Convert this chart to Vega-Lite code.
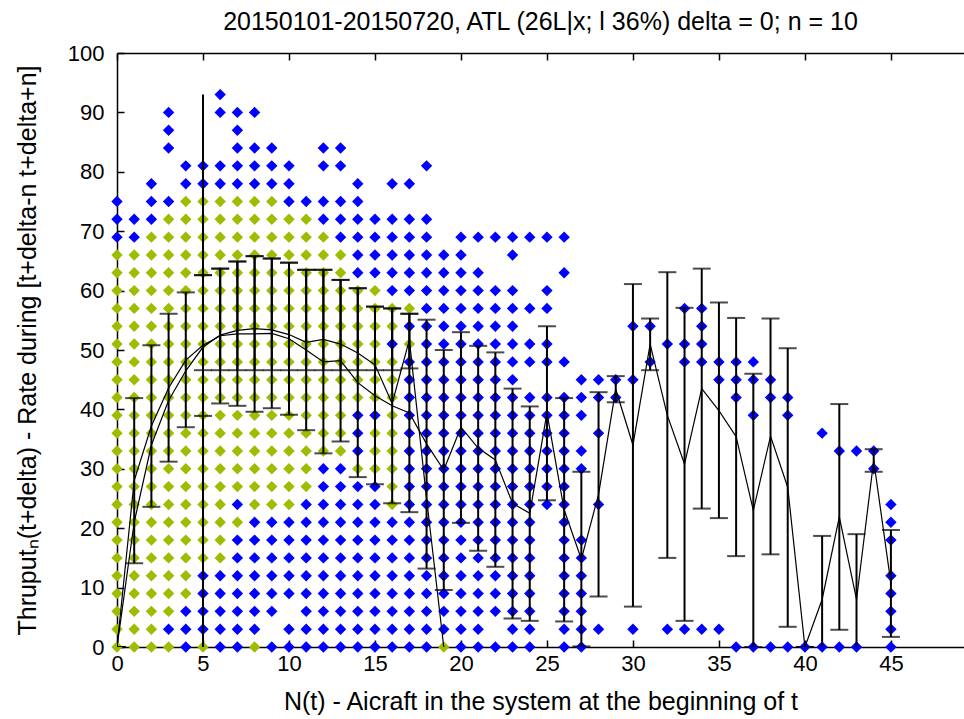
{
  "$schema": "https://vega.github.io/schema/vega-lite/v6.json",
  "width": 847,
  "height": 594,
  "autosize": {"type": "none"},
  "padding": {"left": 117, "top": 53, "right": 0, "bottom": 72},
  "background": "white",
  "config": {
    "view": {"stroke": null},
    "font": "Liberation Sans",
    "axis": {
      "domainColor": "black", "domainWidth": 1.5, "tickColor": "black", "tickWidth": 1.5,
      "labelColor": "black", "labelFont": "Liberation Sans", "labelFontSize": 22,
      "titleColor": "black", "titleFont": "Liberation Sans", "titleFontSize": 25, "titleFontWeight": "normal",
      "grid": false
    }
  },
  "title": {
    "text": "20150101-20150720, ATL (26L|x; l 36%) delta = 0; n = 10",
    "fontSize": 25, "fontWeight": "normal", "color": "black", "font": "Liberation Sans",
    "anchor": "middle", "offset": 7
  },
  "resolve": {"axis": {"x": "independent"}},
  "datasets": {
    "green": [
      {"x":0,"y":0},{"x":0,"y":3},{"x":0,"y":6},{"x":0,"y":9},{"x":0,"y":12},{"x":0,"y":15},{"x":0,"y":18},{"x":0,"y":21},{"x":0,"y":24},{"x":0,"y":27},{"x":0,"y":30},{"x":0,"y":33},{"x":0,"y":36},{"x":0,"y":39},{"x":0,"y":42},{"x":0,"y":45},{"x":0,"y":48},{"x":0,"y":51},{"x":0,"y":54},{"x":0,"y":57},{"x":0,"y":60},{"x":0,"y":63},{"x":0,"y":66},
      {"x":1,"y":0},{"x":1,"y":3},{"x":1,"y":6},{"x":1,"y":9},{"x":1,"y":12},{"x":1,"y":15},{"x":1,"y":18},{"x":1,"y":21},{"x":1,"y":24},{"x":1,"y":27},{"x":1,"y":30},{"x":1,"y":33},{"x":1,"y":36},{"x":1,"y":39},{"x":1,"y":42},{"x":1,"y":45},{"x":1,"y":48},{"x":1,"y":51},{"x":1,"y":54},{"x":1,"y":57},{"x":1,"y":60},{"x":1,"y":63},{"x":1,"y":66},
      {"x":2,"y":0},{"x":2,"y":3},{"x":2,"y":6},{"x":2,"y":9},{"x":2,"y":12},{"x":2,"y":15},{"x":2,"y":18},{"x":2,"y":21},{"x":2,"y":24},{"x":2,"y":27},{"x":2,"y":30},{"x":2,"y":33},{"x":2,"y":36},{"x":2,"y":39},{"x":2,"y":42},{"x":2,"y":45},{"x":2,"y":48},{"x":2,"y":51},{"x":2,"y":54},{"x":2,"y":57},{"x":2,"y":60},{"x":2,"y":63},{"x":2,"y":66},{"x":2,"y":69},
      {"x":3,"y":0},{"x":3,"y":6},{"x":3,"y":9},{"x":3,"y":12},{"x":3,"y":15},{"x":3,"y":18},{"x":3,"y":21},{"x":3,"y":24},{"x":3,"y":27},{"x":3,"y":30},{"x":3,"y":33},{"x":3,"y":36},{"x":3,"y":39},{"x":3,"y":42},{"x":3,"y":45},{"x":3,"y":48},{"x":3,"y":51},{"x":3,"y":54},{"x":3,"y":57},{"x":3,"y":60},{"x":3,"y":63},{"x":3,"y":66},{"x":3,"y":69},{"x":3,"y":72},
      {"x":4,"y":9},{"x":4,"y":12},{"x":4,"y":15},{"x":4,"y":18},{"x":4,"y":21},{"x":4,"y":24},{"x":4,"y":27},{"x":4,"y":30},{"x":4,"y":33},{"x":4,"y":36},{"x":4,"y":39},{"x":4,"y":42},{"x":4,"y":45},{"x":4,"y":48},{"x":4,"y":51},{"x":4,"y":54},{"x":4,"y":57},{"x":4,"y":60},{"x":4,"y":63},{"x":4,"y":66},{"x":4,"y":69},{"x":4,"y":72},{"x":4,"y":75},
      {"x":5,"y":0},{"x":5,"y":15},{"x":5,"y":18},{"x":5,"y":21},{"x":5,"y":24},{"x":5,"y":27},{"x":5,"y":30},{"x":5,"y":33},{"x":5,"y":36},{"x":5,"y":39},{"x":5,"y":42},{"x":5,"y":45},{"x":5,"y":48},{"x":5,"y":51},{"x":5,"y":54},{"x":5,"y":57},{"x":5,"y":60},{"x":5,"y":63},{"x":5,"y":66},{"x":5,"y":69},{"x":5,"y":72},{"x":5,"y":75},
      {"x":6,"y":15},{"x":6,"y":18},{"x":6,"y":21},{"x":6,"y":24},{"x":6,"y":27},{"x":6,"y":30},{"x":6,"y":33},{"x":6,"y":36},{"x":6,"y":39},{"x":6,"y":42},{"x":6,"y":45},{"x":6,"y":48},{"x":6,"y":51},{"x":6,"y":54},{"x":6,"y":57},{"x":6,"y":60},{"x":6,"y":63},{"x":6,"y":66},{"x":6,"y":69},{"x":6,"y":72},{"x":6,"y":75},
      {"x":7,"y":21},{"x":7,"y":27},{"x":7,"y":30},{"x":7,"y":33},{"x":7,"y":36},{"x":7,"y":39},{"x":7,"y":42},{"x":7,"y":45},{"x":7,"y":48},{"x":7,"y":51},{"x":7,"y":54},{"x":7,"y":57},{"x":7,"y":60},{"x":7,"y":63},{"x":7,"y":66},{"x":7,"y":69},{"x":7,"y":72},{"x":7,"y":75},
      {"x":8,"y":0},{"x":8,"y":24},{"x":8,"y":27},{"x":8,"y":30},{"x":8,"y":33},{"x":8,"y":36},{"x":8,"y":39},{"x":8,"y":42},{"x":8,"y":45},{"x":8,"y":48},{"x":8,"y":51},{"x":8,"y":54},{"x":8,"y":57},{"x":8,"y":60},{"x":8,"y":63},{"x":8,"y":66},{"x":8,"y":69},{"x":8,"y":72},{"x":8,"y":75},
      {"x":9,"y":24},{"x":9,"y":27},{"x":9,"y":30},{"x":9,"y":33},{"x":9,"y":36},{"x":9,"y":39},{"x":9,"y":42},{"x":9,"y":45},{"x":9,"y":48},{"x":9,"y":51},{"x":9,"y":54},{"x":9,"y":57},{"x":9,"y":60},{"x":9,"y":63},{"x":9,"y":66},{"x":9,"y":69},{"x":9,"y":72},{"x":9,"y":75},
      {"x":10,"y":24},{"x":10,"y":27},{"x":10,"y":30},{"x":10,"y":33},{"x":10,"y":36},{"x":10,"y":39},{"x":10,"y":42},{"x":10,"y":45},{"x":10,"y":48},{"x":10,"y":51},{"x":10,"y":54},{"x":10,"y":57},{"x":10,"y":60},{"x":10,"y":63},{"x":10,"y":66},{"x":10,"y":69},{"x":10,"y":72},
      {"x":11,"y":27},{"x":11,"y":30},{"x":11,"y":33},{"x":11,"y":36},{"x":11,"y":39},{"x":11,"y":42},{"x":11,"y":45},{"x":11,"y":48},{"x":11,"y":51},{"x":11,"y":54},{"x":11,"y":57},{"x":11,"y":60},{"x":11,"y":63},{"x":11,"y":66},{"x":11,"y":69},{"x":11,"y":72},
      {"x":12,"y":33},{"x":12,"y":36},{"x":12,"y":39},{"x":12,"y":42},{"x":12,"y":45},{"x":12,"y":48},{"x":12,"y":51},{"x":12,"y":54},{"x":12,"y":57},{"x":12,"y":60},{"x":12,"y":63},{"x":12,"y":66},{"x":12,"y":69},
      {"x":13,"y":33},{"x":13,"y":36},{"x":13,"y":39},{"x":13,"y":42},{"x":13,"y":45},{"x":13,"y":48},{"x":13,"y":51},{"x":13,"y":54},{"x":13,"y":57},{"x":13,"y":60},{"x":13,"y":63},{"x":13,"y":66},
      {"x":14,"y":30},{"x":14,"y":42},{"x":14,"y":45},{"x":14,"y":48},{"x":14,"y":51},{"x":14,"y":54},{"x":14,"y":57},{"x":14,"y":60},
      {"x":15,"y":30},{"x":15,"y":33},{"x":15,"y":36},{"x":15,"y":42},{"x":15,"y":45},{"x":15,"y":48},{"x":15,"y":51},{"x":15,"y":54},{"x":15,"y":57},{"x":15,"y":60},
      {"x":16,"y":24},{"x":16,"y":27},{"x":16,"y":30},{"x":16,"y":33},{"x":16,"y":36},{"x":16,"y":39},{"x":16,"y":42},{"x":16,"y":45},{"x":16,"y":48},{"x":16,"y":54},{"x":16,"y":57},
      {"x":17,"y":51},{"x":17,"y":57},
      {"x":19,"y":0}
    ],
    "blue": [
      {"x":0,"y":69},{"x":0,"y":72},{"x":0,"y":75},
      {"x":1,"y":69},{"x":1,"y":72},
      {"x":2,"y":72},{"x":2,"y":75},{"x":2,"y":78},
      {"x":3,"y":3},{"x":3,"y":75},{"x":3,"y":84},{"x":3,"y":87},{"x":3,"y":90},
      {"x":4,"y":0},{"x":4,"y":3},{"x":4,"y":6},{"x":4,"y":78},{"x":4,"y":81},
      {"x":5,"y":3},{"x":5,"y":6},{"x":5,"y":9},{"x":5,"y":12},{"x":5,"y":78},{"x":5,"y":81},
      {"x":6,"y":0},{"x":6,"y":3},{"x":6,"y":6},{"x":6,"y":9},{"x":6,"y":12},{"x":6,"y":78},{"x":6,"y":81},{"x":6,"y":90},{"x":6,"y":93},
      {"x":7,"y":0},{"x":7,"y":3},{"x":7,"y":6},{"x":7,"y":9},{"x":7,"y":12},{"x":7,"y":15},{"x":7,"y":18},{"x":7,"y":24},{"x":7,"y":78},{"x":7,"y":81},{"x":7,"y":84},{"x":7,"y":87},{"x":7,"y":90},
      {"x":8,"y":3},{"x":8,"y":6},{"x":8,"y":9},{"x":8,"y":12},{"x":8,"y":15},{"x":8,"y":18},{"x":8,"y":21},{"x":8,"y":78},{"x":8,"y":81},{"x":8,"y":84},{"x":8,"y":90},
      {"x":9,"y":0},{"x":9,"y":6},{"x":9,"y":9},{"x":9,"y":12},{"x":9,"y":15},{"x":9,"y":18},{"x":9,"y":21},{"x":9,"y":78},{"x":9,"y":81},{"x":9,"y":84},
      {"x":10,"y":0},{"x":10,"y":3},{"x":10,"y":9},{"x":10,"y":12},{"x":10,"y":15},{"x":10,"y":18},{"x":10,"y":21},{"x":10,"y":75},{"x":10,"y":78},{"x":10,"y":81},
      {"x":11,"y":0},{"x":11,"y":3},{"x":11,"y":6},{"x":11,"y":9},{"x":11,"y":12},{"x":11,"y":15},{"x":11,"y":18},{"x":11,"y":21},{"x":11,"y":24},{"x":11,"y":75},
      {"x":12,"y":0},{"x":12,"y":3},{"x":12,"y":6},{"x":12,"y":9},{"x":12,"y":12},{"x":12,"y":15},{"x":12,"y":18},{"x":12,"y":21},{"x":12,"y":24},{"x":12,"y":27},{"x":12,"y":30},{"x":12,"y":72},{"x":12,"y":75},{"x":12,"y":81},{"x":12,"y":84},
      {"x":13,"y":0},{"x":13,"y":3},{"x":13,"y":6},{"x":13,"y":9},{"x":13,"y":12},{"x":13,"y":15},{"x":13,"y":18},{"x":13,"y":21},{"x":13,"y":24},{"x":13,"y":27},{"x":13,"y":30},{"x":13,"y":69},{"x":13,"y":72},{"x":13,"y":75},{"x":13,"y":81},{"x":13,"y":84},
      {"x":14,"y":0},{"x":14,"y":3},{"x":14,"y":6},{"x":14,"y":9},{"x":14,"y":12},{"x":14,"y":15},{"x":14,"y":18},{"x":14,"y":21},{"x":14,"y":24},{"x":14,"y":27},{"x":14,"y":33},{"x":14,"y":36},{"x":14,"y":39},{"x":14,"y":63},{"x":14,"y":66},{"x":14,"y":69},{"x":14,"y":72},{"x":14,"y":75},{"x":14,"y":78},
      {"x":15,"y":0},{"x":15,"y":3},{"x":15,"y":6},{"x":15,"y":9},{"x":15,"y":12},{"x":15,"y":15},{"x":15,"y":18},{"x":15,"y":21},{"x":15,"y":24},{"x":15,"y":27},{"x":15,"y":39},{"x":15,"y":63},{"x":15,"y":66},{"x":15,"y":69},{"x":15,"y":72},
      {"x":16,"y":0},{"x":16,"y":3},{"x":16,"y":6},{"x":16,"y":9},{"x":16,"y":12},{"x":16,"y":15},{"x":16,"y":18},{"x":16,"y":21},{"x":16,"y":51},{"x":16,"y":60},{"x":16,"y":63},{"x":16,"y":66},{"x":16,"y":69},{"x":16,"y":72},{"x":16,"y":78},
      {"x":17,"y":0},{"x":17,"y":3},{"x":17,"y":6},{"x":17,"y":9},{"x":17,"y":12},{"x":17,"y":15},{"x":17,"y":18},{"x":17,"y":21},{"x":17,"y":24},{"x":17,"y":27},{"x":17,"y":30},{"x":17,"y":33},{"x":17,"y":36},{"x":17,"y":39},{"x":17,"y":42},{"x":17,"y":45},{"x":17,"y":48},{"x":17,"y":54},{"x":17,"y":60},{"x":17,"y":63},{"x":17,"y":66},{"x":17,"y":69},{"x":17,"y":72},{"x":17,"y":78},
      {"x":18,"y":0},{"x":18,"y":3},{"x":18,"y":6},{"x":18,"y":9},{"x":18,"y":12},{"x":18,"y":15},{"x":18,"y":18},{"x":18,"y":21},{"x":18,"y":24},{"x":18,"y":27},{"x":18,"y":30},{"x":18,"y":33},{"x":18,"y":36},{"x":18,"y":39},{"x":18,"y":42},{"x":18,"y":45},{"x":18,"y":48},{"x":18,"y":51},{"x":18,"y":54},{"x":18,"y":57},{"x":18,"y":60},{"x":18,"y":63},{"x":18,"y":66},{"x":18,"y":69},{"x":18,"y":72},{"x":18,"y":81},
      {"x":19,"y":3},{"x":19,"y":6},{"x":19,"y":9},{"x":19,"y":12},{"x":19,"y":15},{"x":19,"y":18},{"x":19,"y":21},{"x":19,"y":24},{"x":19,"y":27},{"x":19,"y":30},{"x":19,"y":33},{"x":19,"y":36},{"x":19,"y":39},{"x":19,"y":42},{"x":19,"y":45},{"x":19,"y":48},{"x":19,"y":51},{"x":19,"y":54},{"x":19,"y":57},{"x":19,"y":60},{"x":19,"y":63},{"x":19,"y":66},
      {"x":20,"y":0},{"x":20,"y":3},{"x":20,"y":6},{"x":20,"y":9},{"x":20,"y":12},{"x":20,"y":15},{"x":20,"y":18},{"x":20,"y":21},{"x":20,"y":24},{"x":20,"y":27},{"x":20,"y":30},{"x":20,"y":33},{"x":20,"y":36},{"x":20,"y":39},{"x":20,"y":42},{"x":20,"y":45},{"x":20,"y":48},{"x":20,"y":51},{"x":20,"y":54},{"x":20,"y":57},{"x":20,"y":60},{"x":20,"y":63},{"x":20,"y":66},{"x":20,"y":69},
      {"x":21,"y":0},{"x":21,"y":3},{"x":21,"y":6},{"x":21,"y":9},{"x":21,"y":12},{"x":21,"y":15},{"x":21,"y":18},{"x":21,"y":21},{"x":21,"y":24},{"x":21,"y":27},{"x":21,"y":30},{"x":21,"y":33},{"x":21,"y":36},{"x":21,"y":39},{"x":21,"y":42},{"x":21,"y":45},{"x":21,"y":48},{"x":21,"y":51},{"x":21,"y":54},{"x":21,"y":57},{"x":21,"y":60},{"x":21,"y":63},{"x":21,"y":69},
      {"x":22,"y":0},{"x":22,"y":6},{"x":22,"y":9},{"x":22,"y":12},{"x":22,"y":15},{"x":22,"y":18},{"x":22,"y":21},{"x":22,"y":24},{"x":22,"y":27},{"x":22,"y":30},{"x":22,"y":33},{"x":22,"y":36},{"x":22,"y":39},{"x":22,"y":42},{"x":22,"y":45},{"x":22,"y":48},{"x":22,"y":51},{"x":22,"y":54},{"x":22,"y":57},{"x":22,"y":60},{"x":22,"y":69},
      {"x":23,"y":0},{"x":23,"y":3},{"x":23,"y":6},{"x":23,"y":9},{"x":23,"y":12},{"x":23,"y":15},{"x":23,"y":18},{"x":23,"y":21},{"x":23,"y":24},{"x":23,"y":27},{"x":23,"y":30},{"x":23,"y":33},{"x":23,"y":36},{"x":23,"y":39},{"x":23,"y":42},{"x":23,"y":45},{"x":23,"y":48},{"x":23,"y":51},{"x":23,"y":54},{"x":23,"y":57},{"x":23,"y":60},{"x":23,"y":66},{"x":23,"y":69},
      {"x":24,"y":0},{"x":24,"y":3},{"x":24,"y":6},{"x":24,"y":9},{"x":24,"y":12},{"x":24,"y":15},{"x":24,"y":18},{"x":24,"y":21},{"x":24,"y":24},{"x":24,"y":27},{"x":24,"y":30},{"x":24,"y":33},{"x":24,"y":36},{"x":24,"y":39},{"x":24,"y":42},{"x":24,"y":48},{"x":24,"y":51},{"x":24,"y":57},{"x":24,"y":69},
      {"x":25,"y":24},{"x":25,"y":27},{"x":25,"y":30},{"x":25,"y":33},{"x":25,"y":36},{"x":25,"y":39},{"x":25,"y":42},{"x":25,"y":48},{"x":25,"y":51},{"x":25,"y":57},{"x":25,"y":60},{"x":25,"y":69},
      {"x":26,"y":0},{"x":26,"y":3},{"x":26,"y":6},{"x":26,"y":9},{"x":26,"y":12},{"x":26,"y":15},{"x":26,"y":18},{"x":26,"y":21},{"x":26,"y":24},{"x":26,"y":27},{"x":26,"y":30},{"x":26,"y":33},{"x":26,"y":36},{"x":26,"y":39},{"x":26,"y":42},{"x":26,"y":48},{"x":26,"y":63},{"x":26,"y":69},
      {"x":27,"y":0},{"x":27,"y":3},{"x":27,"y":6},{"x":27,"y":9},{"x":27,"y":12},{"x":27,"y":15},{"x":27,"y":18},{"x":27,"y":30},{"x":27,"y":33},{"x":27,"y":39},{"x":27,"y":42},{"x":27,"y":45},
      {"x":28,"y":3},{"x":28,"y":24},{"x":28,"y":36},{"x":28,"y":42},{"x":28,"y":45},
      {"x":29,"y":42},{"x":29,"y":45},
      {"x":30,"y":3},{"x":30,"y":45},{"x":30,"y":54},
      {"x":31,"y":48},{"x":31,"y":54},
      {"x":32,"y":3},{"x":32,"y":51},
      {"x":33,"y":3},{"x":33,"y":48},{"x":33,"y":51},{"x":33,"y":57},
      {"x":34,"y":3},{"x":34,"y":48},{"x":34,"y":51},{"x":34,"y":54},{"x":34,"y":57},
      {"x":35,"y":3},{"x":35,"y":45},{"x":35,"y":48},
      {"x":36,"y":0},{"x":36,"y":42},{"x":36,"y":45},{"x":36,"y":48},
      {"x":37,"y":0},{"x":37,"y":39},{"x":37,"y":45},{"x":37,"y":48},
      {"x":38,"y":0},{"x":38,"y":42},{"x":38,"y":45},
      {"x":39,"y":0},{"x":39,"y":39},{"x":39,"y":42},
      {"x":40,"y":0},
      {"x":41,"y":0},{"x":41,"y":36},
      {"x":42,"y":0},{"x":42,"y":33},
      {"x":43,"y":0},{"x":43,"y":33},
      {"x":44,"y":30},{"x":44,"y":33},
      {"x":45,"y":0},{"x":45,"y":3},{"x":45,"y":6},{"x":45,"y":9},{"x":45,"y":12},{"x":45,"y":18},{"x":45,"y":21},{"x":45,"y":24}
    ],
    "stats": [
      {"x":0,"m":0,"lo":0,"hi":0,"s":"all"},
      {"x":1,"m":28,"lo":14.1,"hi":41.9,"s":"all"},
      {"x":2,"m":37.2,"lo":23.6,"hi":50.8,"s":"all"},
      {"x":3,"m":43.6,"lo":31.2,"hi":56.1,"s":"all"},
      {"x":4,"m":48.3,"lo":37,"hi":59.7,"s":"all"},
      {"x":5,"m":50.8,"lo":38.9,"hi":62.6,"s":"all"},
      {"x":6,"m":52.4,"lo":41,"hi":63.7,"s":"all"},
      {"x":7,"m":52.7,"lo":40.6,"hi":64.9,"s":"all"},
      {"x":8,"m":52.7,"lo":39.6,"hi":65.8,"s":"all"},
      {"x":9,"m":52.8,"lo":40.2,"hi":65.4,"s":"all"},
      {"x":10,"m":51.9,"lo":39.1,"hi":64.7,"s":"all"},
      {"x":11,"m":50,"lo":36.5,"hi":63.5,"s":"all"},
      {"x":12,"m":48,"lo":32.6,"hi":63.5,"s":"all"},
      {"x":13,"m":48.2,"lo":34.6,"hi":61.8,"s":"all"},
      {"x":14,"m":44.5,"lo":28.6,"hi":60.4,"s":"all"},
      {"x":15,"m":42.3,"lo":27.4,"hi":57.3,"s":"all"},
      {"x":16,"m":40.6,"lo":24.2,"hi":57,"s":"all"},
      {"x":17,"m":39.4,"lo":22.7,"hi":56.1,"s":"all"},
      {"x":18,"m":34.2,"lo":13.2,"hi":55.1,"s":"all"},
      {"x":19,"m":29.8,"lo":9.6,"hi":50,"s":"all"},
      {"x":20,"m":37,"lo":20.9,"hi":53,"s":"all"},
      {"x":21,"m":33.5,"lo":16.2,"hi":50.7,"s":"all"},
      {"x":22,"m":31.5,"lo":13.5,"hi":49.6,"s":"all"},
      {"x":23,"m":24.2,"lo":4.8,"hi":43.5,"s":"all"},
      {"x":24,"m":22.5,"lo":4.4,"hi":40.5,"s":"all"},
      {"x":25,"m":39.4,"lo":24.7,"hi":54,"s":"all"},
      {"x":26,"m":23.1,"lo":4.3,"hi":41.9,"s":"all"},
      {"x":27,"m":14.8,"lo":0.1,"hi":29.5,"s":"all"},
      {"x":28,"m":25.7,"lo":8.5,"hi":42.9,"s":"all"},
      {"x":29,"m":43.4,"lo":41.2,"hi":45.6,"s":"all"},
      {"x":30,"m":34,"lo":6.8,"hi":61.1,"s":"all"},
      {"x":31,"m":51,"lo":46.6,"hi":55.3,"s":"all"},
      {"x":32,"m":39,"lo":15,"hi":63.1,"s":"all"},
      {"x":33,"m":30.8,"lo":4.4,"hi":57.1,"s":"all"},
      {"x":34,"m":43.5,"lo":23.3,"hi":63.7,"s":"all"},
      {"x":35,"m":39.8,"lo":21.7,"hi":58,"s":"all"},
      {"x":36,"m":35.4,"lo":15.3,"hi":55.4,"s":"all"},
      {"x":37,"m":23,"lo":0,"hi":46,"s":"all"},
      {"x":38,"m":35.5,"lo":15.6,"hi":55.3,"s":"all"},
      {"x":39,"m":26.9,"lo":3.4,"hi":50.3,"s":"all"},
      {"x":40,"m":0,"lo":0,"hi":0,"s":"all"},
      {"x":41,"m":8,"lo":-2.7,"hi":18.7,"s":"all"},
      {"x":42,"m":21.9,"lo":2.9,"hi":40.9,"s":"all"},
      {"x":43,"m":8,"lo":-3,"hi":19,"s":"all"},
      {"x":44,"m":31.4,"lo":29.5,"hi":33.3,"s":"all"},
      {"x":45,"m":10.7,"lo":1.7,"hi":19.7,"s":"all"},
      {"x":0,"m":0,"lo":null,"hi":null,"s":"sub"},
      {"x":1,"m":21,"lo":null,"hi":null,"s":"sub"},
      {"x":2,"m":34,"lo":null,"hi":null,"s":"sub"},
      {"x":3,"m":41.5,"lo":null,"hi":null,"s":"sub"},
      {"x":4,"m":46.5,"lo":null,"hi":null,"s":"sub"},
      {"x":5,"m":50.5,"lo":46.6,"hi":62.6,"s":"sub"},
      {"x":6,"m":52.5,"lo":46.6,"hi":63.7,"s":"sub"},
      {"x":7,"m":53.3,"lo":46.6,"hi":64.9,"s":"sub"},
      {"x":8,"m":53.6,"lo":46.6,"hi":65.8,"s":"sub"},
      {"x":9,"m":53.4,"lo":46.6,"hi":65.4,"s":"sub"},
      {"x":10,"m":52.6,"lo":46.6,"hi":64.7,"s":"sub"},
      {"x":11,"m":51.3,"lo":46.6,"hi":63.5,"s":"sub"},
      {"x":12,"m":51.8,"lo":46.6,"hi":63.5,"s":"sub"},
      {"x":13,"m":51,"lo":46.6,"hi":61.8,"s":"sub"},
      {"x":14,"m":49.5,"lo":46.6,"hi":60.4,"s":"sub"},
      {"x":15,"m":47.5,"lo":46.6,"hi":57.3,"s":"sub"},
      {"x":16,"m":41,"lo":46.6,"hi":57,"s":"sub"},
      {"x":17,"m":51.7,"lo":46.9,"hi":56.1,"s":"sub"},
      {"x":18,"m":25,"lo":null,"hi":null,"s":"sub"},
      {"x":19,"m":0,"lo":null,"hi":null,"s":"sub"}
    ],
    "marker": [
      {"x":5,"lo":0,"hi":93}
    ]
  },
  "layer": [
    {
      "data": {"name": "blue"},
      "mark": {"type": "point", "shape": "diamond", "filled": true, "size": 130, "color": "#0000ff", "opacity": 1},
      "encoding": {
        "x": {"field": "x", "type": "quantitative",
              "scale": {"domain": [0, 49.25], "nice": false, "zero": false},
              "axis": {"orient": "bottom", "values": [0,5,10,15,20,25,30,35,40,45], "tickSize": -7,
                       "labelPadding": 13, "labelFlush": false,
                       "title": "N(t) - Aicraft in the system at the beginning of t", "titlePadding": 15, "titleFontSize": 25}},
        "y": {"field": "y", "type": "quantitative",
              "scale": {"domain": [0, 100], "nice": false},
              "axis": {"values": [0,10,20,30,40,50,60,70,80,90,100], "tickSize": -7, "labelPadding": 20,
                       "title": "Thruputₙ(t+delta) - Rate during [t+delta-n t+delta+n]", "titlePadding": 27}}
      }
    },
    {
      "data": {"name": "green"},
      "mark": {"type": "point", "shape": "diamond", "filled": true, "size": 130, "color": "#9cbd00", "opacity": 1},
      "encoding": {
        "x": {"field": "x", "type": "quantitative",
              "axis": {"orient": "top", "values": [0,5,10,15,20,25,30,35,40,45], "tickSize": -7,
                       "labels": false, "title": null}},
        "y": {"field": "y", "type": "quantitative"}
      }
    },
    {
      "data": {"name": "marker"},
      "mark": {"type": "rule", "color": "black", "strokeWidth": 2},
      "encoding": {
        "x": {"field": "x", "type": "quantitative", "axis": null},
        "y": {"field": "lo", "type": "quantitative"},
        "y2": {"field": "hi"}
      }
    },
    {
      "data": {"name": "stats"},
      "mark": {"type": "rule", "color": "black", "strokeWidth": 2, "clip": true},
      "encoding": {
        "x": {"field": "x", "type": "quantitative", "axis": null},
        "y": {"field": "lo", "type": "quantitative"},
        "y2": {"field": "hi"},
        "detail": {"field": "s"}
      }
    },
    {
      "data": {"name": "stats"},
      "mark": {"type": "tick", "orient": "horizontal", "color": "black", "size": 18, "thickness": 2, "clip": true},
      "encoding": {
        "x": {"field": "x", "type": "quantitative", "axis": null},
        "y": {"field": "lo", "type": "quantitative"}
      }
    },
    {
      "data": {"name": "stats"},
      "mark": {"type": "tick", "orient": "horizontal", "color": "black", "size": 18, "thickness": 2, "clip": true},
      "encoding": {
        "x": {"field": "x", "type": "quantitative", "axis": null},
        "y": {"field": "hi", "type": "quantitative"}
      }
    },
    {
      "data": {"name": "stats"},
      "mark": {"type": "line", "color": "black", "strokeWidth": 1.2, "clip": true},
      "encoding": {
        "x": {"field": "x", "type": "quantitative", "axis": null},
        "y": {"field": "m", "type": "quantitative"},
        "detail": {"field": "s"}
      }
    }
  ]
}
